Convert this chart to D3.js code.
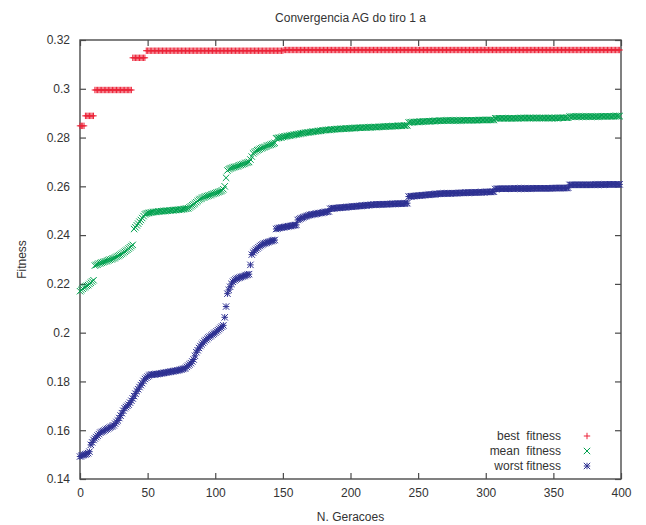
<!DOCTYPE html>
<html>
<head>
<meta charset="utf-8">
<script src="https://cdn.jsdelivr.net/npm/d3@7"></script>
<style>
  html, body { margin: 0; padding: 0; background: #fff; }
  text { font-family: "Liberation Sans", Arial, Helvetica, sans-serif; }
</style>
</head>
<body>
<svg id="chart" width="646" height="525"></svg>
<script>
// Axis ticks
const xTicks = [0, 50, 100, 150, 200, 250, 300, 350, 400];
const yTicks = [0.14, 0.16, 0.18, 0.20, 0.22, 0.24, 0.26, 0.28, 0.30, 0.32];

// Fitness per generation (index = generation number)
const bestFitness = [
  0.2848,0.2848,0.2848,0.2848,0.2889,0.2889,0.2889,0.2889,0.2889,0.2889,
  0.2889,0.2995,0.2995,0.2995,0.2995,0.2995,0.2995,0.2995,0.2995,0.2995,
  0.2995,0.2995,0.2995,0.2995,0.2995,0.2995,0.2995,0.2995,0.2995,0.2995,
  0.2995,0.2995,0.2995,0.2995,0.2995,0.2995,0.2995,0.2995,0.2995,0.3127,
  0.3127,0.3127,0.3127,0.3127,0.3127,0.3127,0.3127,0.3127,0.3127,0.3156,
  0.3156,0.3156,0.3156,0.3156,0.3156,0.3156,0.3156,0.3156,0.3156,0.3156,
  0.3156,0.3156,0.3156,0.3156,0.3156,0.3156,0.3156,0.3156,0.3156,0.3156,
  0.3156,0.3156,0.3156,0.3156,0.3156,0.3156,0.3156,0.3156,0.3156,0.3156,
  0.3156,0.3156,0.3156,0.3156,0.3156,0.3156,0.3156,0.3156,0.3156,0.3156,
  0.3156,0.3156,0.3156,0.3156,0.3156,0.3156,0.3156,0.3156,0.3156,0.3156,
  0.3156,0.3156,0.3156,0.3156,0.3156,0.3156,0.3156,0.3156,0.3156,0.3156,
  0.3156,0.3156,0.3156,0.3156,0.3156,0.3156,0.3156,0.3156,0.3156,0.3156,
  0.3156,0.3156,0.3156,0.3156,0.3156,0.3156,0.3156,0.3156,0.3156,0.3156,
  0.3156,0.3156,0.3156,0.3156,0.3156,0.3156,0.3156,0.3156,0.3156,0.3156,
  0.3156,0.3156,0.3156,0.3156,0.3156,0.3156,0.3156,0.3156,0.3156,0.3156,
  0.3156,0.3159,0.3159,0.3159,0.3159,0.3159,0.3159,0.3159,0.3159,0.3159,
  0.3159,0.3159,0.3159,0.3159,0.3159,0.3159,0.3159,0.3159,0.3159,0.3159,
  0.3159,0.3159,0.3159,0.3159,0.3159,0.3159,0.3159,0.3159,0.3159,0.3159,
  0.3159,0.3159,0.3159,0.3159,0.3159,0.3159,0.3159,0.3159,0.3159,0.3159,
  0.3159,0.3159,0.3159,0.3159,0.3159,0.3159,0.3159,0.3159,0.3159,0.3159,
  0.3159,0.3159,0.3159,0.3159,0.3159,0.3159,0.3159,0.3159,0.3159,0.3159,
  0.3159,0.3159,0.3159,0.3159,0.3159,0.3159,0.3159,0.3159,0.3159,0.3159,
  0.3159,0.3159,0.3159,0.3159,0.3159,0.3159,0.3159,0.3159,0.3159,0.3159,
  0.3159,0.3159,0.3159,0.3159,0.3159,0.3159,0.3159,0.3159,0.3159,0.3159,
  0.3159,0.3159,0.3159,0.3159,0.3159,0.3159,0.3159,0.3159,0.3159,0.3159,
  0.3159,0.3159,0.3159,0.3159,0.3159,0.3159,0.3159,0.3159,0.3159,0.3159,
  0.3159,0.3159,0.3159,0.3159,0.3159,0.3159,0.3159,0.3159,0.3159,0.3159,
  0.3159,0.3159,0.3159,0.3159,0.3159,0.3159,0.3159,0.3159,0.3159,0.3159,
  0.3159,0.3159,0.3159,0.3159,0.3159,0.3159,0.3159,0.3159,0.3159,0.3159,
  0.3159,0.3159,0.3159,0.3159,0.3159,0.3159,0.3159,0.3159,0.3159,0.3159,
  0.3159,0.3159,0.3159,0.3159,0.3159,0.3159,0.3159,0.3159,0.3159,0.3159,
  0.3159,0.3159,0.3159,0.3159,0.3159,0.3159,0.3159,0.3159,0.3159,0.3159,
  0.3159,0.3159,0.3159,0.3159,0.3159,0.3159,0.3159,0.3159,0.3159,0.3159,
  0.3159,0.3159,0.3159,0.3159,0.3159,0.3159,0.3159,0.3159,0.3159,0.3159,
  0.3159,0.3159,0.3159,0.3159,0.3159,0.3159,0.3159,0.3159,0.3159,0.3159,
  0.3159,0.3159,0.3159,0.3159,0.3159,0.3159,0.3159,0.3159,0.3159,0.3159,
  0.3159,0.3159,0.3159,0.3159,0.3159,0.3159,0.3159,0.3159,0.3159,0.3159,
  0.3159,0.3159,0.3159,0.3159,0.3159,0.3159,0.3159,0.3159,0.3159,0.3159,
  0.3159,0.3159,0.3159,0.3159,0.3159,0.3159,0.3159,0.3159,0.3159,0.3159,
  0.3159,0.3159,0.3159,0.3159,0.3159,0.3159,0.3159,0.3159,0.3159,0.3159
];

const meanFitness = [
  0.2170,0.2175,0.2180,0.2185,0.2188,0.2192,0.2195,0.2200,0.2205,0.2210,
  0.2215,0.2275,0.2278,0.2280,0.2283,0.2285,0.2287,0.2289,0.2291,0.2293,
  0.2295,0.2297,0.2299,0.2301,0.2303,0.2305,0.2308,0.2311,0.2314,0.2317,
  0.2320,0.2324,0.2328,0.2332,0.2336,0.2340,0.2345,0.2350,0.2355,0.2360,
  0.2425,0.2432,0.2440,0.2447,0.2455,0.2462,0.2470,0.2478,0.2485,0.2488,
  0.2490,0.2491,0.2492,0.2493,0.2494,0.2495,0.2495,0.2496,0.2497,0.2497,
  0.2498,0.2498,0.2499,0.2499,0.2500,0.2500,0.2501,0.2501,0.2502,0.2502,
  0.2503,0.2503,0.2504,0.2504,0.2505,0.2505,0.2506,0.2507,0.2508,0.2509,
  0.2510,0.2514,0.2518,0.2522,0.2526,0.2530,0.2535,0.2540,0.2545,0.2548,
  0.2551,0.2554,0.2556,0.2558,0.2560,0.2562,0.2564,0.2566,0.2568,0.2570,
  0.2572,0.2574,0.2576,0.2578,0.2580,0.2583,0.2588,0.2600,0.2635,0.2665,
  0.2670,0.2673,0.2675,0.2677,0.2679,0.2680,0.2682,0.2684,0.2686,0.2688,
  0.2690,0.2692,0.2694,0.2696,0.2698,0.2700,0.2710,0.2722,0.2735,0.2740,
  0.2744,0.2748,0.2750,0.2753,0.2756,0.2758,0.2760,0.2762,0.2765,0.2767,
  0.2769,0.2771,0.2773,0.2775,0.2778,0.2797,0.2798,0.2799,0.2800,0.2801,
  0.2803,0.2804,0.2805,0.2806,0.2807,0.2808,0.2809,0.2810,0.2811,0.2812,
  0.2813,0.2814,0.2815,0.2816,0.2817,0.2818,0.2819,0.2820,0.2821,0.2821,
  0.2822,0.2823,0.2824,0.2824,0.2825,0.2826,0.2827,0.2827,0.2828,0.2829,
  0.2830,0.2830,0.2831,0.2831,0.2832,0.2832,0.2833,0.2833,0.2834,0.2834,
  0.2835,0.2835,0.2835,0.2836,0.2836,0.2836,0.2837,0.2837,0.2837,0.2838,
  0.2838,0.2838,0.2839,0.2839,0.2839,0.2840,0.2840,0.2840,0.2840,0.2841,
  0.2841,0.2841,0.2841,0.2842,0.2842,0.2842,0.2842,0.2843,0.2843,0.2843,
  0.2843,0.2844,0.2844,0.2844,0.2845,0.2845,0.2845,0.2846,0.2846,0.2846,
  0.2846,0.2847,0.2847,0.2847,0.2847,0.2848,0.2848,0.2848,0.2848,0.2849,
  0.2849,0.2849,0.2850,0.2862,0.2862,0.2863,0.2863,0.2863,0.2864,0.2864,
  0.2864,0.2865,0.2865,0.2865,0.2866,0.2866,0.2866,0.2867,0.2867,0.2867,
  0.2867,0.2868,0.2868,0.2868,0.2868,0.2869,0.2869,0.2869,0.2869,0.2869,
  0.2870,0.2870,0.2870,0.2870,0.2870,0.2870,0.2870,0.2870,0.2870,0.2870,
  0.2870,0.2870,0.2870,0.2871,0.2871,0.2871,0.2871,0.2871,0.2871,0.2871,
  0.2871,0.2871,0.2871,0.2871,0.2871,0.2872,0.2872,0.2872,0.2872,0.2872,
  0.2872,0.2872,0.2872,0.2872,0.2872,0.2872,0.2872,0.2879,0.2879,0.2879,
  0.2879,0.2879,0.2879,0.2879,0.2879,0.2879,0.2879,0.2879,0.2879,0.2879,
  0.2879,0.2879,0.2879,0.2879,0.2879,0.2880,0.2880,0.2880,0.2880,0.2880,
  0.2880,0.2880,0.2880,0.2880,0.2880,0.2880,0.2880,0.2880,0.2880,0.2880,
  0.2880,0.2880,0.2880,0.2880,0.2880,0.2880,0.2880,0.2880,0.2880,0.2880,
  0.2880,0.2880,0.2880,0.2880,0.2880,0.2881,0.2881,0.2881,0.2881,0.2881,
  0.2881,0.2881,0.2886,0.2886,0.2886,0.2886,0.2886,0.2886,0.2886,0.2886,
  0.2886,0.2886,0.2886,0.2886,0.2886,0.2886,0.2886,0.2886,0.2886,0.2886,
  0.2886,0.2886,0.2886,0.2886,0.2886,0.2887,0.2887,0.2887,0.2887,0.2887,
  0.2887,0.2887,0.2887,0.2887,0.2887,0.2888,0.2888,0.2888,0.2888,0.2888
];

const worstFitness = [
  0.1492,0.1495,0.1497,0.1499,0.1501,0.1503,0.1506,0.1512,0.1540,0.1550,
  0.1560,0.1566,0.1572,0.1578,0.1584,0.1590,0.1593,0.1596,0.1599,0.1602,
  0.1605,0.1608,0.1611,0.1614,0.1617,0.1620,0.1627,0.1634,0.1640,0.1650,
  0.1660,0.1670,0.1680,0.1690,0.1695,0.1700,0.1705,0.1713,0.1721,0.1730,
  0.1740,0.1750,0.1760,0.1768,0.1777,0.1785,0.1793,0.1802,0.1810,0.1815,
  0.1820,0.1824,0.1827,0.1828,0.1828,0.1829,0.1830,0.1830,0.1831,0.1832,
  0.1833,0.1834,0.1835,0.1836,0.1837,0.1838,0.1839,0.1840,0.1841,0.1842,
  0.1843,0.1844,0.1845,0.1846,0.1848,0.1849,0.1851,0.1853,0.1855,0.1860,
  0.1865,0.1870,0.1875,0.1882,0.1890,0.1905,0.1920,0.1928,0.1937,0.1945,
  0.1952,0.1958,0.1965,0.1970,0.1975,0.1980,0.1984,0.1988,0.1992,0.1996,
  0.2000,0.2005,0.2010,0.2015,0.2020,0.2025,0.2030,0.2063,0.2107,0.2160,
  0.2175,0.2188,0.2200,0.2208,0.2214,0.2218,0.2221,0.2224,0.2226,0.2228,
  0.2230,0.2232,0.2234,0.2236,0.2238,0.2240,0.2278,0.2320,0.2328,0.2335,
  0.2340,0.2345,0.2350,0.2355,0.2359,0.2362,0.2365,0.2367,0.2369,0.2371,
  0.2373,0.2375,0.2377,0.2378,0.2380,0.2425,0.2427,0.2429,0.2430,0.2431,
  0.2432,0.2433,0.2434,0.2435,0.2436,0.2437,0.2438,0.2439,0.2440,0.2441,
  0.2442,0.2462,0.2465,0.2468,0.2470,0.2473,0.2475,0.2477,0.2479,0.2481,
  0.2483,0.2484,0.2485,0.2486,0.2487,0.2488,0.2489,0.2490,0.2491,0.2492,
  0.2493,0.2494,0.2495,0.2496,0.2497,0.2508,0.2509,0.2510,0.2510,0.2511,
  0.2511,0.2512,0.2512,0.2513,0.2513,0.2514,0.2514,0.2515,0.2515,0.2516,
  0.2516,0.2517,0.2517,0.2518,0.2518,0.2519,0.2519,0.2520,0.2520,0.2521,
  0.2521,0.2522,0.2522,0.2523,0.2523,0.2524,0.2524,0.2525,0.2525,0.2525,
  0.2526,0.2526,0.2526,0.2526,0.2526,0.2527,0.2527,0.2527,0.2527,0.2527,
  0.2528,0.2528,0.2528,0.2528,0.2528,0.2529,0.2529,0.2529,0.2529,0.2529,
  0.2530,0.2530,0.2531,0.2558,0.2559,0.2559,0.2560,0.2560,0.2561,0.2561,
  0.2562,0.2562,0.2563,0.2563,0.2564,0.2564,0.2565,0.2565,0.2566,0.2566,
  0.2567,0.2567,0.2568,0.2568,0.2569,0.2569,0.2570,0.2570,0.2570,0.2571,
  0.2571,0.2571,0.2571,0.2571,0.2571,0.2572,0.2572,0.2572,0.2572,0.2572,
  0.2573,0.2573,0.2573,0.2573,0.2573,0.2574,0.2574,0.2574,0.2574,0.2574,
  0.2575,0.2575,0.2575,0.2575,0.2575,0.2576,0.2576,0.2576,0.2576,0.2576,
  0.2577,0.2577,0.2577,0.2577,0.2577,0.2578,0.2578,0.2589,0.2589,0.2590,
  0.2590,0.2590,0.2590,0.2590,0.2590,0.2590,0.2590,0.2590,0.2590,0.2590,
  0.2591,0.2591,0.2591,0.2591,0.2591,0.2591,0.2591,0.2591,0.2591,0.2591,
  0.2591,0.2591,0.2591,0.2591,0.2591,0.2592,0.2592,0.2592,0.2592,0.2592,
  0.2592,0.2592,0.2592,0.2592,0.2592,0.2592,0.2592,0.2592,0.2592,0.2592,
  0.2593,0.2593,0.2593,0.2593,0.2593,0.2593,0.2593,0.2593,0.2593,0.2593,
  0.2593,0.2594,0.2606,0.2606,0.2606,0.2606,0.2606,0.2606,0.2606,0.2606,
  0.2606,0.2606,0.2606,0.2606,0.2606,0.2606,0.2606,0.2606,0.2606,0.2606,
  0.2607,0.2607,0.2607,0.2607,0.2607,0.2607,0.2607,0.2607,0.2607,0.2607,
  0.2608,0.2608,0.2608,0.2608,0.2608,0.2608,0.2608,0.2608,0.2608,0.2608
];

const seriesLabels = ["best  fitness", "mean  fitness", "worst fitness"];

// ---- drawing ----
const svg = d3.select("#chart");
const W = 646, H = 525;
const plot = { left: 80, right: 621, top: 40, bottom: 479 };

const x = d3.scaleLinear().domain([0, 400]).range([plot.left, plot.right]);
const y = d3.scaleLinear().domain([0.14, 0.32]).range([plot.bottom, plot.top]);

const fmtY = d => String(+d.toFixed(2));
const axisColor = "#4a4a4a";
const textColor = "#333";
const tickLen = 6;

// glyph paths for gnuplot-style point types
const S = 3.2;
const glyphs = {
  plus:  `M${-S},0H${S}M0,${-S}V${S}`,
  cross: `M${-S},${-S}L${S},${S}M${-S},${S}L${S},${-S}`,
  star:  `M${-S},0H${S}M0,${-S}V${S}M${-S},${-S}L${S},${S}M${-S},${S}L${S},${-S}`
};

const series = [
  { label: seriesLabels[0], values: bestFitness,  color: "#ec2338", glyph: glyphs.plus },
  { label: seriesLabels[1], values: meanFitness,  color: "#00a14e", glyph: glyphs.cross },
  { label: seriesLabels[2], values: worstFitness, color: "#2e3192", glyph: glyphs.star }
];

// title
svg.append("text")
  .attr("x", (plot.left + plot.right) / 2)
  .attr("y", 22)
  .attr("text-anchor", "middle")
  .attr("font-size", 12)
  .attr("fill", textColor)
  .text("Convergencia AG do tiro 1 a");

// axes with inward ticks on all sides
const gx = svg.append("g").attr("transform", `translate(0,${plot.bottom})`)
  .call(d3.axisBottom(x).tickValues(xTicks).tickSize(-tickLen).tickSizeOuter(0).tickPadding(9));
const gxTop = svg.append("g").attr("transform", `translate(0,${plot.top})`)
  .call(d3.axisTop(x).tickValues(xTicks).tickSize(-tickLen).tickSizeOuter(0).tickFormat(""));
const gy = svg.append("g").attr("transform", `translate(${plot.left},0)`)
  .call(d3.axisLeft(y).tickValues(yTicks).tickSize(-tickLen).tickSizeOuter(0).tickPadding(10).tickFormat(fmtY));
const gyRight = svg.append("g").attr("transform", `translate(${plot.right},0)`)
  .call(d3.axisRight(y).tickValues(yTicks).tickSize(-tickLen).tickSizeOuter(0).tickFormat(""));

[gx, gxTop, gy, gyRight].forEach(g => {
  g.select(".domain").remove();
  g.selectAll(".tick line").attr("stroke", axisColor).attr("stroke-width", 1.2);
  g.selectAll(".tick text")
    .attr("font-size", 12)
    .attr("fill", textColor)
    .attr("font-family", '"Liberation Sans", Arial, Helvetica, sans-serif');
});

// frame
svg.append("rect")
  .attr("x", plot.left).attr("y", plot.top)
  .attr("width", plot.right - plot.left).attr("height", plot.bottom - plot.top)
  .attr("fill", "none").attr("stroke", axisColor).attr("stroke-width", 1.4);

// axis labels
svg.append("text")
  .attr("x", (plot.left + plot.right) / 2)
  .attr("y", 521)
  .attr("text-anchor", "middle")
  .attr("font-size", 12)
  .attr("fill", textColor)
  .text("N. Geracoes");

svg.append("text")
  .attr("transform", `translate(26,${(plot.top + plot.bottom) / 2}) rotate(-90)`)
  .attr("text-anchor", "middle")
  .attr("font-size", 12)
  .attr("fill", textColor)
  .text("Fitness");

// point marks
series.forEach(s => {
  svg.append("g")
    .attr("fill", "none")
    .attr("stroke", s.color)
    .attr("stroke-width", 1)
    .selectAll("path")
    .data(s.values.map((v, g) => ({ g, v })))
    .join("path")
    .attr("transform", d => `translate(${x(d.g)},${y(d.v)})`)
    .attr("d", s.glyph);
});

// legend
const legend = svg.append("g");
series.forEach((s, i) => {
  const ly = 436 + i * 15;
  legend.append("text")
    .attr("x", 561).attr("y", ly + 4)
    .attr("text-anchor", "end")
    .attr("font-size", 12)
    .attr("fill", textColor)
    .style("white-space", "pre")
    .text(s.label);
  legend.append("path")
    .attr("transform", `translate(587,${ly})`)
    .attr("d", s.glyph)
    .attr("fill", "none")
    .attr("stroke", s.color)
    .attr("stroke-width", 1);
});
</script>
</body>
</html>
